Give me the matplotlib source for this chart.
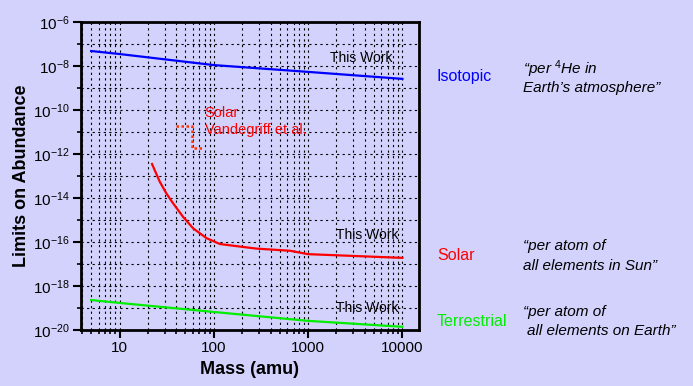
import numpy as np
import matplotlib.pyplot as plt
from matplotlib.ticker import FixedLocator, NullFormatter, LogLocator

# 데이터
iso_mass = [5, 10, 100, 1000, 10000]
iso_limit = [4.8e-8, 3.5e-8, 1.1e-8, 5.4e-9, 2.6e-9]

solar_mass = [22.1, 26.7, 31.4, 36.9, 47.1, 60.3, 83.5, 116, 189, 284, 644, 1000, 10000]
solar_limit = [3.5e-13, 5.5e-14, 1.6e-14, 5.8e-15, 1.4e-15, 4.2e-16, 1.5e-16,
               8.1e-17, 6.2e-17, 5.0e-17, 4.0e-17, 2.8e-17, 1.9e-17]

terr_mass = [5, 10, 100, 1000, 10000]
terr_limit = [2.3e-19, 1.7e-19, 6.6e-20, 2.6e-20, 1.4e-20]

# Vandegriff et al. (점선)
vg_mass = [40, 58, 58, 77]
vg_limit = [1.9e-11, 1.9e-11, 1.9e-12, 1.9e-12]

y_major = [1e-20, 1e-18, 1e-16, 1e-14, 1e-12, 1e-10, 1e-8, 1e-6]
y_labels = ['$10^{-20}$', '$10^{-18}$', '$10^{-16}$', '$10^{-14}$',
            '$10^{-12}$', '$10^{-10}$', '$10^{-8}$', '$10^{-6}$']
y_minor = [1e-19, 1e-17, 1e-15, 1e-13, 1e-11, 1e-9, 1e-7]
x_major = [10, 100, 1000, 10000]
x_labels = ['10', '100', '1000', '10000']

plt.rcParams['font.family'] = ['Liberation Sans', 'DejaVu Sans']
plt.rcParams['mathtext.fontset'] = 'custom'
plt.rcParams['mathtext.rm'] = 'Liberation Sans'
plt.rcParams['mathtext.it'] = 'Liberation Sans:italic'

bg = '#d2d2fc'
fig = plt.figure(figsize=(6.93, 3.86), dpi=100, facecolor=bg)
ax = fig.add_axes([81/693, 1 - 330/386, 338/693, 308/386], facecolor=bg)

ax.plot(iso_mass, iso_limit, color='#0000ff', lw=1.6)
ax.plot(solar_mass, solar_limit, color='#ff0000', lw=1.6)
ax.plot(terr_mass, terr_limit, color='#00ee00', lw=1.6)
ax.plot(vg_mass, vg_limit, color='#ff3300', lw=1.8, linestyle=(0, (1, 1)))

ax.set_xscale('log')
ax.set_yscale('log')
ax.set_xlim(3.9, 15000)
ax.set_ylim(1e-20, 1e-6)

ax.yaxis.set_major_locator(FixedLocator(y_major))
ax.set_yticklabels(y_labels)
ax.yaxis.set_minor_locator(FixedLocator(y_minor))
ax.yaxis.set_minor_formatter(NullFormatter())
ax.xaxis.set_major_locator(FixedLocator(x_major))
ax.set_xticklabels(x_labels)
ax.xaxis.set_minor_locator(LogLocator(base=10, subs=np.arange(2, 10), numticks=20))
ax.xaxis.set_minor_formatter(NullFormatter())

ax.tick_params(which='major', direction='out', length=6, width=1.5, labelsize=11, pad=2)
ax.tick_params(which='minor', direction='out', length=3, width=1.2)
ax.grid(True, which='both', color='black', lw=0.8, linestyle=(0, (2, 3)))
for s in ax.spines.values():
    s.set_linewidth(2)

ax.set_xlabel('Mass (amu)', fontsize=13, fontweight='bold', labelpad=4)
ax.set_ylabel('Limits on Abundance', fontsize=13, fontweight='bold', labelpad=2)

# 그래프 안 텍스트
ax.text(1700, 2.2e-8, 'This Work', fontsize=10, ha='left', va='center')
ax.text(2000, 2.1e-16, 'This Work', fontsize=10, ha='left', va='center')
ax.text(2000, 1.0e-19, 'This Work', fontsize=10, ha='left', va='center')
ax.text(80, 7.2e-11, 'Solar', fontsize=10.5, color='#ff0000', ha='left', va='center')
ax.text(80, 1.2e-11, 'Vandegriff et al.', fontsize=10.5, color='#ff0000', ha='left', va='center')

# 오른쪽 설명
fig.text(437/693, 1 - 77/386, 'Isotopic', fontsize=11.5, color='#0000ff', va='center')
fig.text(437/693, 1 - 255/386, 'Solar', fontsize=11.5, color='#ff0000', va='center')
fig.text(437/693, 1 - 322/386, 'Terrestrial', fontsize=11.5, color='#00ee00', va='center')
fig.text(523/693, 1 - 69/386, '\u201cper $^{4}$He in', fontsize=11, style='italic', va='center')
fig.text(523/693, 1 - 88/386, 'Earth\u2019s atmosphere\u201d', fontsize=11, style='italic', va='center')
fig.text(523/693, 1 - 246/386, '\u201cper atom of', fontsize=11, style='italic', va='center')
fig.text(523/693, 1 - 266/386, 'all elements in Sun\u201d', fontsize=11, style='italic', va='center')
fig.text(523/693, 1 - 312/386, '\u201cper atom of', fontsize=11, style='italic', va='center')
fig.text(527/693, 1 - 331/386, 'all elements on Earth\u201d', fontsize=11, style='italic', va='center')

fig.savefig('out.png', dpi=100, facecolor=bg)
